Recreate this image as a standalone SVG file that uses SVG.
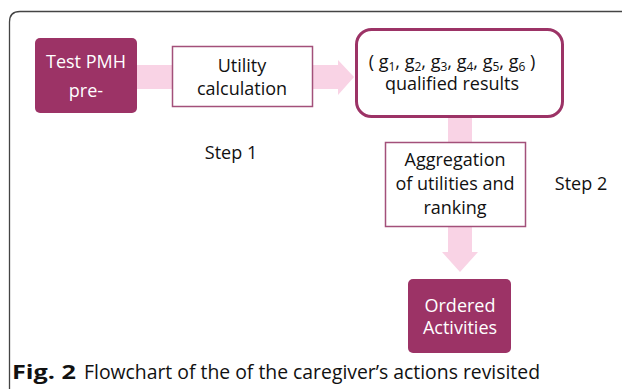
<svg xmlns="http://www.w3.org/2000/svg" width="622" height="389" viewBox="0 0 622 389">
<style>
.t{font-family:"Open Sans","Noto Sans","Liberation Sans",sans-serif;font-size:18px;text-anchor:middle;fill:#111}
.w{fill:#fff}
.arrow{fill:#f9d3e5}
.box{fill:#fff;stroke:#a3507a;stroke-width:1.5}
.dark{fill:#9c3366}
.sub{font-size:12px}
.cap{font-family:"Open Sans","Noto Sans","Liberation Sans",sans-serif;font-size:20px;fill:#111}
</style>
<rect width="622" height="389" fill="#fff"/>
<path d="M9.5 389 V22 Q9.5 11.5 20 11.5 H622" fill="none" stroke="#444" stroke-width="1.3"/>
<g id="connectors">
<rect class="arrow" x="137" y="65" width="36" height="24"/>
<path class="arrow" d="M312 65 H338 V60 L354 77 L338 95 V89 H312 Z"/>
<path class="arrow" d="M448 117 H472 V143 H448 Z"/>
<path class="arrow" d="M448 226 H472 V252 H478 L460 272 L442 252 H448 Z"/>
</g>
<g id="n1">
<rect class="dark" x="35" y="38" width="102" height="75" rx="5"/>
<text class="t w" x="86" y="68">Test PMH</text>
<text class="t w" x="86" y="97">pre-</text>
</g>
<g id="n2">
<rect class="box" x="172.5" y="46.5" width="140" height="60"/>
<text class="t" x="242" y="72">Utility</text>
<text class="t" x="242" y="95">calculation</text>
</g>
<g id="n3">
<rect x="356.5" y="29.5" width="206" height="87" rx="15" fill="#fff" stroke="#9c3366" stroke-width="3"/>
<text class="t" x="452" y="68">( g<tspan class="sub" dy="3">1</tspan><tspan dy="-3">, g</tspan><tspan class="sub" dy="3">2</tspan><tspan dy="-3">, g</tspan><tspan class="sub" dy="3">3</tspan><tspan dy="-3">, g</tspan><tspan class="sub" dy="3">4</tspan><tspan dy="-3">, g</tspan><tspan class="sub" dy="3">5</tspan><tspan dy="-3">, g</tspan><tspan class="sub" dy="3">6</tspan><tspan dy="-3"> )</tspan></text>
<text class="t" x="452" y="90">qualified results</text>
</g>
<g id="n4">
<rect class="box" x="385.5" y="142.5" width="140" height="84"/>
<text class="t" x="455" y="166">Aggregation</text>
<text class="t" x="455" y="190">of utilities and</text>
<text class="t" x="455" y="214">ranking</text>
</g>
<g id="n5">
<rect class="dark" x="408" y="279" width="103" height="74" rx="5"/>
<text class="t w" x="460" y="312">Ordered</text>
<text class="t w" x="460" y="334">Activities</text>
</g>
<g id="labels">
<text class="t" x="231" y="159">Step 1</text>
<text class="t" x="581" y="190">Step 2</text>
</g>
<text class="cap" x="12" y="379" font-weight="bold" textLength="64" lengthAdjust="spacingAndGlyphs">Fig. 2</text>
<text class="cap" x="84" y="379" textLength="456" lengthAdjust="spacingAndGlyphs">Flowchart of the of the caregiver’s actions revisited</text>
</svg>
